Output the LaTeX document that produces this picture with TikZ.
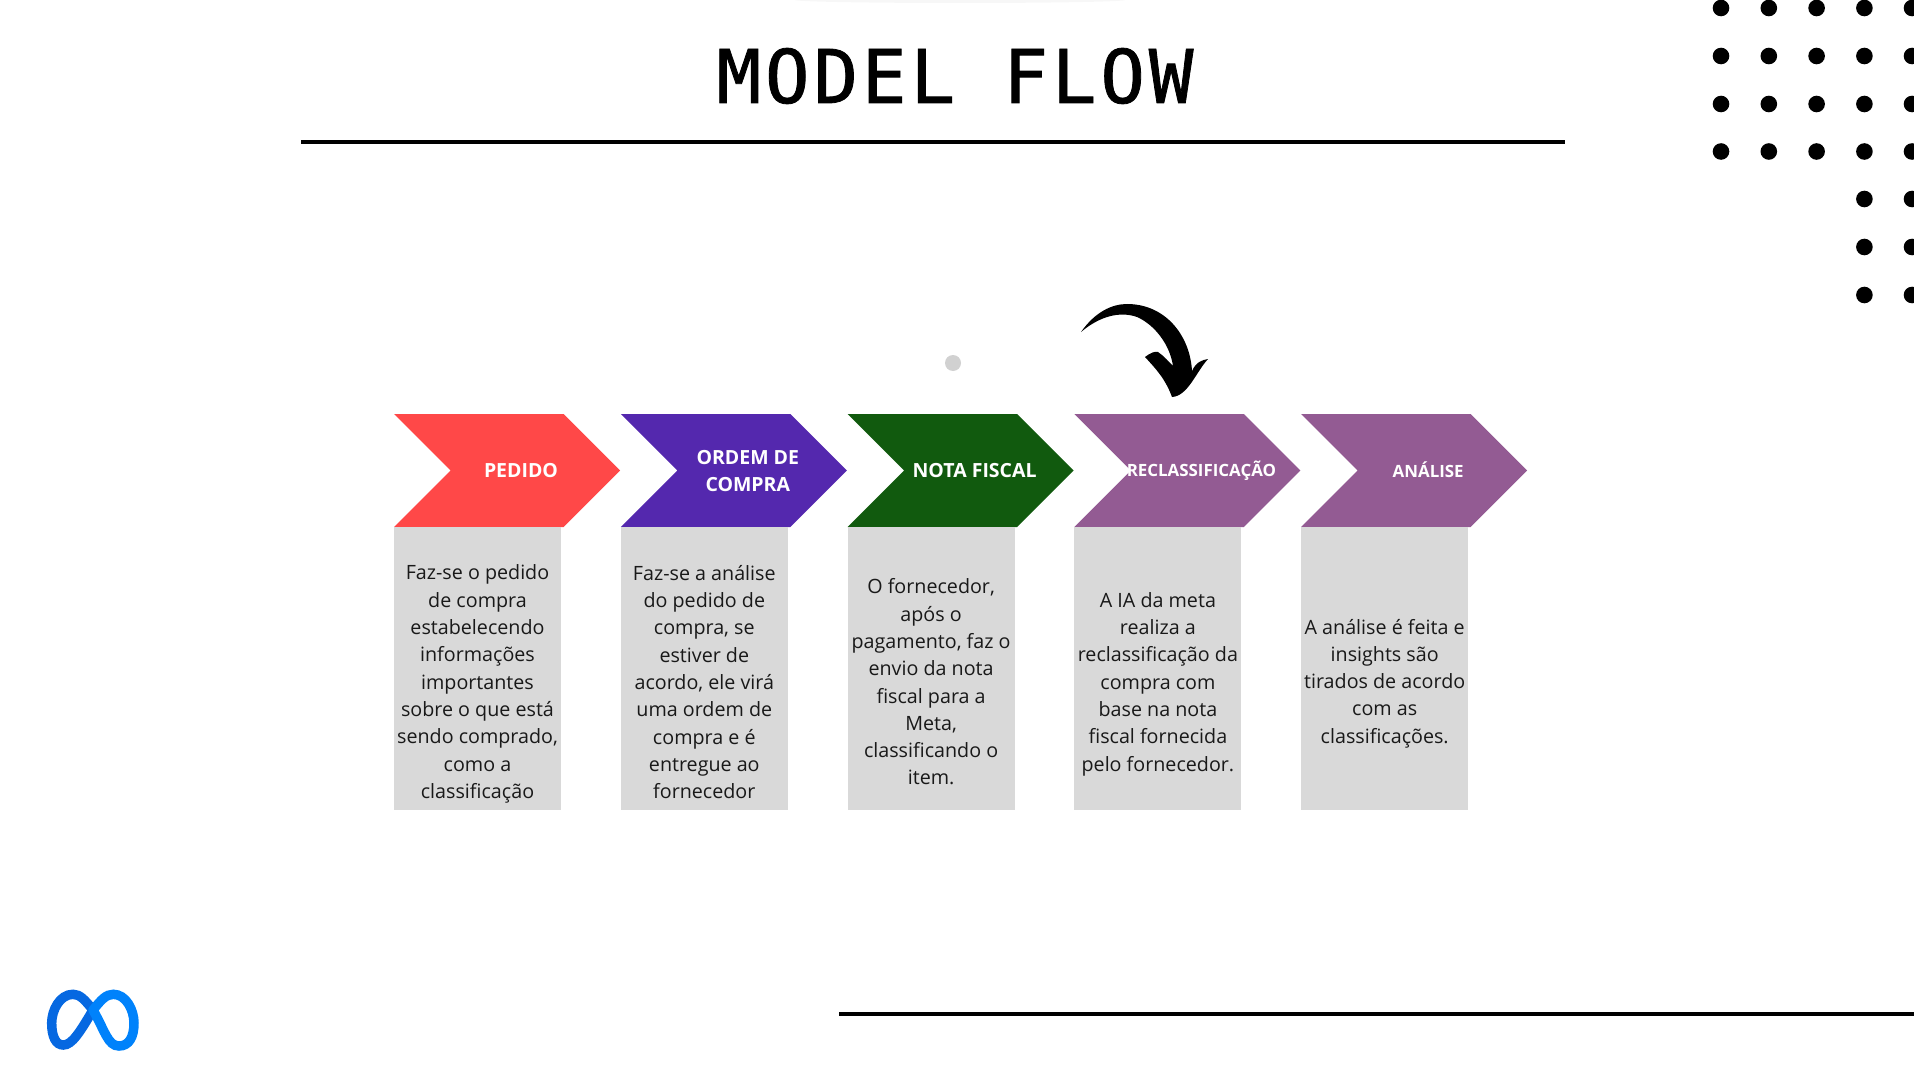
\documentclass[tikz,border=0pt]{standalone}
\usepackage{fontspec}
\setmainfont{Open Sans}
\newfontfamily\titlefont[LetterSpace=5.3,FakeBold=1.1]{DejaVu Sans Mono}
\usetikzlibrary{calc,positioning,shapes.symbols}
\definecolor{pedidored}{HTML}{FF4848}
\definecolor{ordempurple}{HTML}{5428AE}
\definecolor{notagreen}{HTML}{115A0E}
\definecolor{reclassmauve}{HTML}{935B93}
\definecolor{boxgray}{HTML}{D9D9D9}
\definecolor{metablue}{HTML}{0082FB}
\definecolor{metadeep}{HTML}{0668E1}
\tikzset{
  chevron/.style={signal,signal from=west,signal to=east,signal pointer angle=90,
                  minimum width=226pt,minimum height=113pt,inner sep=0pt,outer sep=0pt},
  chevtext/.style={text=white,font=\fontsize{19.5}{27.3}\selectfont\bfseries,align=center,inner sep=0pt},
  chevsmall/.style={text=white,font=\fontsize{16.9}{22}\selectfont\bfseries,align=center,inner sep=0pt},
  descbox/.style={fill=boxgray,minimum width=167pt,minimum height=283pt,inner sep=0pt,outer sep=0pt},
  desctext/.style={text=black!90,font=\fontsize{19.7}{27.3}\selectfont,align=center,inner sep=0pt},
  rule/.style={line width=4pt,black},
  metastroke/.style={line width=9.5pt,line cap=round}
}
\begin{document}
\begin{tikzpicture}[x=1pt,y=-1pt]
\useasboundingbox (0,0) rectangle (1914,1075);
\fill[black!3] (960,0) ellipse (165 and 3);
\node[inner sep=0pt,font=\titlefont\fontsize{74}{80}\selectfont] (title) at (955,76) {MODEL FLOW};
\coordinate (ruleL) at (301,142);
\coordinate (ruleR) at (1565,142);
\draw[rule] (ruleL) -- (ruleR);
\coordinate (footL) at (839,1014);
\coordinate (footR) at (1914,1014);
\draw[rule] (footL) -- (footR);
% dots top right
\foreach \cx in {1721,1768.8,1816.6,1864.4,1912}
  \foreach \cy in {8,56,104,151.5}
    \fill (\cx,\cy) circle (8.3);
\foreach \cx in {1864.4,1912}
  \foreach \cy in {199,247,295}
    \fill (\cx,\cy) circle (8.3);
\fill[black!18] (953,363) circle (8);
% chevrons
\node[chevron,fill=pedidored] (pedido) at (507,470.5) {};
\node[chevron,fill=ordempurple,right=57.3pt of pedido] (ordem) {};
\node[chevron,fill=notagreen,right=57.3pt of ordem] (nota) {};
\node[chevron,fill=reclassmauve,right=57.3pt of nota] (reclass) {};
\node[chevron,fill=reclassmauve,right=57.3pt of reclass] (analise) {};
\node[chevtext] (pedidotxt) at ($(pedido.center)+(14,0)$) {PEDIDO};
\node[chevtext] (ordemtxt) at ($(ordem.center)+(14,0.6)$) {ORDEM DE\\COMPRA};
\node[chevtext] (notatxt) at ($(nota.center)+(14,0)$) {NOTA FISCAL};
\node[chevsmall] (reclasstxt) at ($(reclass.center)+(14,0.5)$) {RECLASSIFICAÇÃO};
\node[chevsmall] (analisetxt) at ($(analise.center)+(14,-1)$) {ANÁLISE};
% boxes
\node[descbox] (boxa) at (477.5,668.5) {};
\node[descbox,right=59.8pt of boxa] (boxb) {};
\node[descbox,right=59.8pt of boxb] (boxc) {};
\node[descbox,right=59.8pt of boxc] (boxd) {};
\node[descbox,right=59.8pt of boxd] (boxe) {};
\node[desctext] (txta) at ($(boxa.center)+(0,15.5)$) {Faz-se o pedido\\de compra\\estabelecendo\\informações\\importantes\\sobre o que está\\sendo comprado,\\como a\\classificação};
\node[desctext] (txtb) at ($(boxb.center)+(0,13.5)$) {Faz-se a análise\\do pedido de\\compra, se\\estiver de\\acordo, ele virá\\uma ordem de\\compra e é\\entregue ao\\fornecedor};
\node[desctext] (txtc) at ($(boxc.center)+(0,13.5)$) {O fornecedor,\\após o\\pagamento, faz o\\envio da nota\\fiscal para a\\Meta,\\classificando o\\item.};
\node[desctext] (txtd) at ($(boxd.center)+(0,15.5)$) {A IA da meta\\realiza a\\reclassificação da\\compra com\\base na nota\\fiscal fornecida\\pelo fornecedor.};
\node[desctext] (txte) at ($(boxe.center)+(0,15)$) {A análise é feita e\\insights são\\tirados de acordo\\com as\\classificações.};
% swoosh arrow
\fill (1081,332) .. controls (1095,312) and (1112,304) .. (1127,304)
  .. controls (1165,304) and (1190,335) .. (1192,371)
  .. controls (1196,362) and (1202,360) .. (1208,359)
  .. controls (1196,372) and (1188,396) .. (1172,397)
  .. controls (1165,378) and (1155,368) .. (1145,357)
  .. controls (1150,353) and (1155,351) .. (1158,352)
  .. controls (1164,356) and (1169,362) .. (1173,366)
  .. controls (1170,345) and (1155,325) .. (1137,317)
  .. controls (1120,311) and (1100,316) .. (1081,332) -- cycle;
% meta logo
\draw[metastroke,metadeep] (93,1010) .. controls (85,1000) and (80,994.3) .. (73,994.3)
  .. controls (60,994.3) and (51.7,1010) .. (51.7,1023)
  .. controls (51.7,1037) and (56,1045) .. (63.3,1045)
  .. controls (72,1045) and (80,1032) .. (93,1010);
\draw[metastroke,metablue] (93,1010) .. controls (101,1000) and (106,994.3) .. (113.3,994.3)
  .. controls (126,994.3) and (134,1010) .. (134,1023)
  .. controls (134,1037) and (129,1046) .. (119,1046)
  .. controls (108,1046) and (105,1031) .. (93,1010);
\end{tikzpicture}
\end{document}
